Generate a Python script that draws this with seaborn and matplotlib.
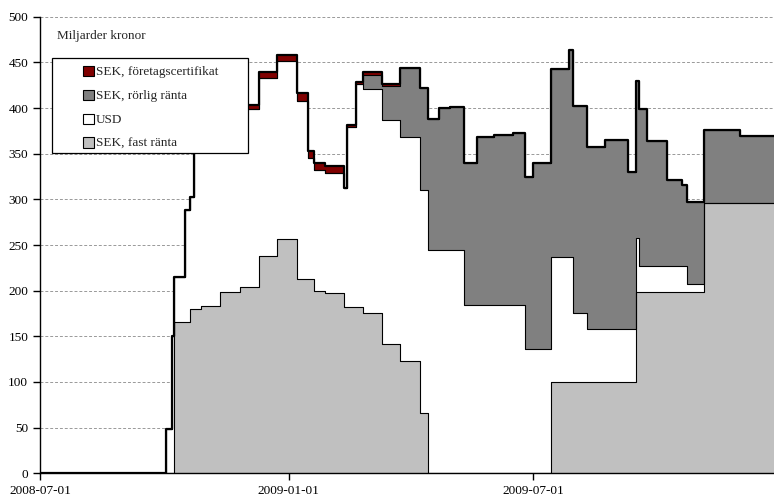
import pandas as pd
import matplotlib.pyplot as plt
import matplotlib.dates as mdates
from matplotlib.patches import Patch, Rectangle
import seaborn as sns

# step data: each value holds from its date until the next date (miljarder kronor)
dates = ['2008-07-01', '2008-10-02', '2008-10-07', '2008-10-08', '2008-10-16',
         '2008-10-20', '2008-10-23', '2008-10-28', '2008-11-11', '2008-11-26',
         '2008-12-10', '2008-12-23', '2009-01-07', '2009-01-15', '2009-01-20',
         '2009-01-28', '2009-02-11', '2009-02-13', '2009-02-20', '2009-02-25',
         '2009-03-11', '2009-03-24', '2009-04-08', '2009-04-14', '2009-04-22',
         '2009-04-30', '2009-05-11', '2009-05-20', '2009-06-02', '2009-06-16',
         '2009-06-25', '2009-07-01', '2009-07-14', '2009-07-27', '2009-07-30',
         '2009-08-10', '2009-08-23', '2009-09-09', '2009-09-15', '2009-09-17',
         '2009-09-23', '2009-10-08', '2009-10-19', '2009-10-23', '2009-11-04',
         '2009-12-01', '2009-12-26']
sek_fast = [0, 0, 0, 166, 166,
            180, 180, 183, 198, 204,
            238, 257, 213, 213, 200,
            197, 182, 182, 182, 176,
            141.5, 123, 66, 0, 0,
            0, 0, 0, 0, 0,
            0, 0, 100, 100, 100,
            100, 100, 100, 199, 199,
            199, 199, 199, 199, 296,
            296, 296]
usd = [0, 48, 150, 49, 122,
       123, 200, 205, 197, 195,
       195, 195, 195, 132, 132,
       132, 130, 197, 244.5, 244.5,
       245, 245, 244, 244.5, 244.5,
       244.5, 184.5, 184.5, 184.5, 184.5,
       136, 136, 136.5, 136.5, 76,
       57.5, 57.5, 57.5, 58.5, 27.5,
       27.5, 27.5, 27.5, 8, 0,
       0, 0]
sek_rorlig = [0, 0, 0, 0, 0,
              0, 0, 0, 0, 0,
              0, 0, 0, 0, 0,
              0, 0, 0, 0, 16,
              37.5, 76, 112, 144, 155,
              157, 155.5, 183.5, 186, 188.5,
              189, 204, 206, 227, 226.5,
              199.5, 207.5, 172.5, 172.5, 172,
              137.5, 95, 89.5, 90.5, 80,
              73, 73]
sek_fc = [0, 0, 0, 0, 0,
          0, 3, 4, 4, 4,
          6, 6.5, 8, 8, 8,
          7, 0, 2.5, 2.5, 2.5,
          2, 0, 0, 0, 0,
          0, 0, 0, 0, 0,
          0, 0, 0, 0, 0,
          0, 0, 0, 0, 0,
          0, 0, 0, 0, 0,
          0, 0]

labels = ['SEK, företagscertifikat', 'SEK, rörlig ränta', 'USD', 'SEK, fast ränta']
colors = ['#800000', '#808080', '#ffffff', '#c0c0c0']
tick_dates = ['2008-07-01', '2009-01-01', '2009-07-01']

df = pd.DataFrame({'date': pd.to_datetime(dates), 'fast': sek_fast, 'usd': usd,
                   'rorlig': sek_rorlig, 'fc': sek_fc})
df['l1'] = df['fast']
df['l2'] = df['l1'] + df['usd']
df['l3'] = df['l2'] + df['rorlig']
df['total'] = df['l3'] + df['fc']
df['zero'] = 0.0

sns.set_style('ticks')
plt.rcParams['font.family'] = ['Liberation Serif', 'DejaVu Serif']

fig = plt.figure(figsize=(7.74, 4.97), dpi=100)
ax = fig.add_axes([40 / 774, 23.7 / 497, 734 / 774, 456.6 / 497])

x = df['date'].values
layers = [('zero', 'l1', colors[3]), ('l1', 'l2', colors[2]),
          ('l2', 'l3', colors[1]), ('l3', 'total', colors[0])]
for lo, hi, col in layers:
    ax.fill_between(x, df[lo], df[hi], step='post', facecolor=col,
                    edgecolor='none', zorder=2)

for col in ['l1', 'l2', 'l3']:
    sns.lineplot(data=df, x='date', y=col, drawstyle='steps-post', color='black',
                 linewidth=0.8, ax=ax, zorder=3)
sns.lineplot(data=df, x='date', y='total', drawstyle='steps-post', color='black',
             linewidth=1.6, ax=ax, zorder=4)

ax.set_xlim(pd.Timestamp(dates[0]), pd.Timestamp(dates[-1]))
ax.set_ylim(0, 500)
ax.set_yticks(range(0, 501, 50))
ax.set_xticks(pd.to_datetime(tick_dates))
ax.xaxis.set_major_formatter(mdates.DateFormatter('%Y-%m-%d'))
ax.set_xlabel('')
ax.set_ylabel('')
ax.set_axisbelow(True)
ax.yaxis.grid(True, linestyle=(0, (3, 2)), color='#999999', linewidth=0.7)
ax.tick_params(direction='out', length=5, width=1, colors='black', labelsize=9.5)
for side in ['top', 'right']:
    ax.spines[side].set_visible(False)
for side in ['left', 'bottom']:
    ax.spines[side].set_linewidth(1)
    ax.spines[side].set_color('black')

ax.text(0.023, 0.958, 'Miljarder kronor', transform=ax.transAxes, va='center',
        fontsize=9.5)

# legend box
ax.add_patch(Rectangle((0.0163, 0.7015), 0.267, 0.208, transform=ax.transAxes,
                       facecolor='white', edgecolor='black', linewidth=0.9, zorder=5))
handles = [Patch(facecolor=c, edgecolor='black', linewidth=0.8) for c in colors]
leg = ax.legend(handles, labels, loc='upper left', bbox_to_anchor=(0.0586, 0.893),
                frameon=False, borderpad=0, borderaxespad=0, fontsize=9.5,
                handlelength=0.8, handleheight=0.8, handletextpad=0.2,
                labelspacing=0.86)
leg.set_zorder(6)

fig.savefig('out.png', dpi=100)
